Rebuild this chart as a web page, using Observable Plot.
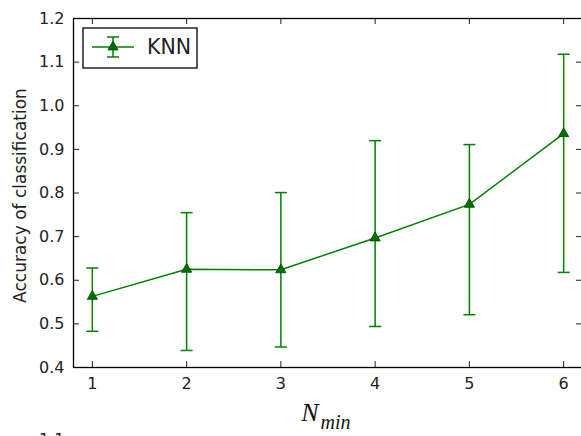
<!DOCTYPE html>
<html><head><meta charset="utf-8">
<script src="https://cdn.jsdelivr.net/npm/d3@7"></script>
<script src="https://cdn.jsdelivr.net/npm/@observablehq/plot@0.6"></script>
<style>
html,body{margin:0;padding:0;overflow:hidden;background:#fff;}
#wrap{position:relative;width:581px;height:436px;overflow:hidden;}
#wrap svg{max-width:none !important;}
</style></head><body><div id="wrap"></div>
<script>
// ---- data ----
const nmin = [1, 2, 3, 4, 5, 6];
const accuracy = [0.563, 0.625, 0.624, 0.697, 0.774, 0.936];
const upper = [0.628, 0.755, 0.801, 0.920, 0.911, 1.118];
const lower = [0.483, 0.439, 0.447, 0.494, 0.521, 0.618];
const xTicks = [1, 2, 3, 4, 5, 6];
const yTicks = [0.4, 0.5, 0.6, 0.7, 0.8, 0.9, 1.0, 1.1, 1.2];
const seriesName = "KNN";
const yLabel = "Accuracy of classification";
const xLabelMain = "N";
const xLabelSub = "min";
const nextPanelTick = "1.1";

const data = nmin.map((n, i) => ({n, acc: accuracy[i], hi: upper[i], lo: lower[i]}));

const W = 582, H = 436, mL = 73, mT = 18, mB = 69, mR = 0;
const pw = W - mL - mR, ph = H - mT - mB;
const green = "#008000";
const markFill = "#007000";
const markStroke = "#004800";
const tickColor = "#222";
const sans = "'DejaVu Sans', sans-serif";
const serif = "'Liberation Serif', serif";
const cap = {draw(ctx) { ctx.moveTo(-6, 0); ctx.lineTo(6, 0); }};
const markerR = 3.8;

const plot = Plot.plot({
  width: W, height: H,
  marginLeft: mL, marginTop: mT, marginBottom: mB, marginRight: mR,
  style: {fontFamily: sans, fontSize: "16px", color: tickColor, background: "white"},
  x: {domain: [0.8, 6.2]},
  y: {domain: [0.4, 1.2]},
  marks: [
    Plot.axisX(xTicks, {tickSize: 0, tickPadding: 10, tickFormat: d => String(d), label: null, fill: tickColor}),
    Plot.axisY(yTicks, {tickSize: 0, tickPadding: 9, tickFormat: d3.format(".1f"), label: null, fill: tickColor}),
    // inward ticks on all sides
    Plot.tickY(yTicks, {y: d => d, insetRight: pw - 6, stroke: tickColor}),
    Plot.tickY(yTicks, {y: d => d, insetLeft: pw - 6, stroke: tickColor}),
    Plot.tickX(xTicks, {x: d => d, insetTop: ph - 6, stroke: tickColor}),
    Plot.tickX(xTicks, {x: d => d, insetBottom: ph - 6, stroke: tickColor}),
    Plot.frame({stroke: "#000", strokeWidth: 1.3}),
    // series
    Plot.line(data, {x: "n", y: "acc", stroke: green, strokeWidth: 1.5}),
    Plot.ruleX(data, {x: "n", y1: "lo", y2: "hi", stroke: green, strokeWidth: 1.5}),
    Plot.dot(data, {x: "n", y: "hi", symbol: cap, stroke: green, strokeWidth: 1.5, fill: "none"}),
    Plot.dot(data, {x: "n", y: "lo", symbol: cap, stroke: green, strokeWidth: 1.5, fill: "none"}),
    Plot.dot(data, {x: "n", y: "acc", symbol: "triangle", r: markerR, fill: markFill, stroke: markStroke, strokeWidth: 0.8}),
    // labels
    Plot.text([yLabel], {frameAnchor: "left", dx: -52.5, dy: 2.5, rotate: -90, text: d => d, textAnchor: "middle", lineAnchor: "middle", fontSize: 17, fill: tickColor}),
    Plot.text([xLabelMain], {frameAnchor: "bottom", dx: -9.5, dy: 53, text: d => d, textAnchor: "end", lineAnchor: "bottom",
      fontFamily: serif, fontStyle: "italic", fontSize: 26, fill: "#111"}),
    Plot.text([xLabelSub], {frameAnchor: "bottom", dx: -7.5, dy: 61, text: d => d, textAnchor: "start", lineAnchor: "bottom",
      fontFamily: serif, fontStyle: "italic", fontSize: 20, fill: "#111"}),
    Plot.text([nextPanelTick], {frameAnchor: "bottom-left", dx: -9, dy: 77, text: d => d, textAnchor: "end", lineAnchor: "bottom", fill: tickColor})
  ]
});

const wrap = document.getElementById("wrap");
wrap.appendChild(plot);

// legend overlay
const tri = d3.symbol(d3.symbolTriangle, markerR * markerR * Math.PI)();
const leg = document.createElement("div");
leg.style.cssText = "position:absolute;left:82px;top:27px;width:117px;height:43px;";
leg.innerHTML = `<svg width="117" height="43" xmlns="http://www.w3.org/2000/svg">
  <rect x="1" y="1" width="114" height="40" fill="#fff" stroke="#000" stroke-width="1.3"/>
  <line x1="10" x2="52" y1="20" y2="20" stroke="${green}" stroke-width="1.5"/>
  <line x1="31" x2="31" y1="10" y2="30" stroke="${green}" stroke-width="1.5"/>
  <line x1="25" x2="37" y1="10" y2="10" stroke="${green}" stroke-width="1.5"/>
  <line x1="25" x2="37" y1="30" y2="30" stroke="${green}" stroke-width="1.5"/>
  <path d="${tri}" transform="translate(31,20)" fill="${markFill}" stroke="${markStroke}" stroke-width="0.8"/>
  <text x="65" y="20" dy="0.36em" font-family="${sans}" font-size="20.5" fill="${tickColor}">${seriesName}</text>
</svg>`;
wrap.appendChild(leg);
</script>
</body></html>
